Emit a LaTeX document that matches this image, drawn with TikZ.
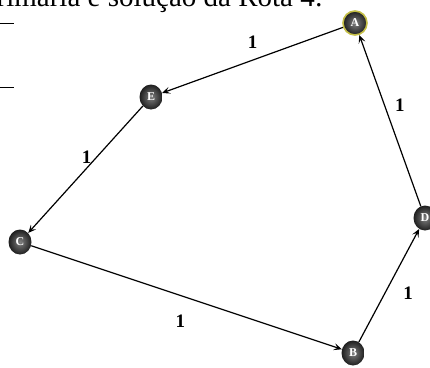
\documentclass[tikz,border=0pt]{standalone}
\usepackage{fontspec}
\setmainfont{Liberation Serif}
\usepackage{xcolor}
\usepackage{tikz}
\usetikzlibrary{shapes.geometric, arrows.meta, positioning}
\definecolor{ringyellow}{RGB}{196,190,70}
\tikzset{
  city/.style={ellipse, minimum width=23pt, minimum height=25pt, inner sep=0pt,
               shading=radial, inner color=black!50, outer color=black!88,
               text=white, font=\fontsize{12}{12}\selectfont\bfseries},
  startcity/.style={city, draw=ringyellow, line width=1.6pt},
  cost/.style={font=\fontsize{19}{19}\selectfont\bfseries, inner sep=1pt},
  arr/.style={-{Stealth[length=8pt, width=7pt, inset=3.5pt]}, line width=1.2pt},
}

\begin{document}
\begin{tikzpicture}[x=1pt, y=-1pt]
  \useasboundingbox (0,0) rectangle (430,367);
  \clip (0,0) rectangle (430,367);

  % Caption cut off at the top
  \node [anchor=base east, inner sep=0pt, font=\fontsize{29}{29}\selectfont] (caption)
    at (323,6) {Primária e solução da Rota 4:};
  \coordinate (r1a) at (0,23);  \coordinate (r1b) at (14,23);
  \coordinate (r2a) at (0,87);  \coordinate (r2b) at (14,87);
  \draw [line width=1pt] (r1a) -- (r1b);
  \draw [line width=1pt] (r2a) -- (r2b);

  % Nodes
  \node [startcity, minimum width=24pt, minimum height=24pt] (A) at (355,23) {A};
  \node [city] (E) at (151,97) {E};
  \node [city] (C) at (20,242) {C};
  \node [city] (B) at (353,353) {B};
  \node [city] (D) at (425,218) {D};

  % Edges
  \draw [arr] (A) -- node[cost, midway, above=10pt] {1} (E);
  \draw [arr] (E) -- node[cost, pos=0.4, left=4pt] {1} (C);
  \draw [arr] (C) -- node[cost, pos=0.48, below=18pt] {1} (B);
  \draw [arr] (B) -- node[cost, pos=0.43, right=17pt] {1} (D);
  \draw [arr] (D) -- node[cost, pos=0.59, right=9pt] {1} (A);
\end{tikzpicture}
\end{document}
